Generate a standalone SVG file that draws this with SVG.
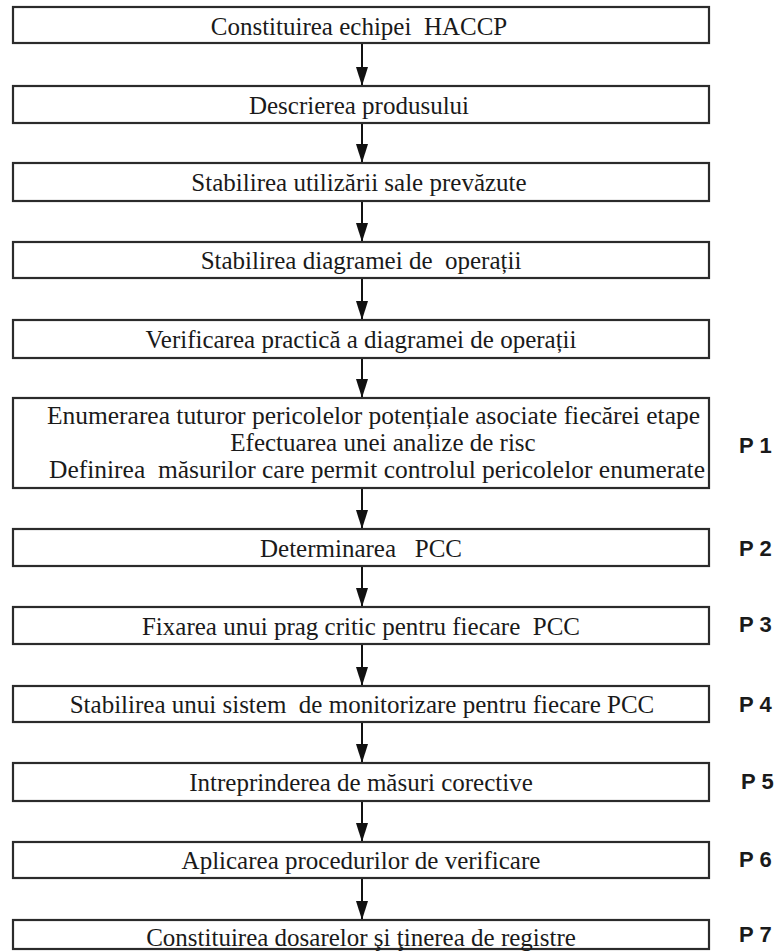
<svg xmlns="http://www.w3.org/2000/svg" width="779" height="951" viewBox="0 0 779 951">
  <style>
    .box rect { fill: #ffffff; stroke: #2b2b2b; stroke-width: 2.2; }
    .box text { font-family: "Liberation Serif", "Times New Roman", serif; font-size: 25px; fill: #1a1a1a; text-anchor: middle; }
    .step { font-family: "Liberation Sans", Arial, sans-serif; font-size: 22px; font-weight: bold; fill: #1a1a1a; }
    .conn line { stroke: #111111; stroke-width: 2; }
  </style>
  <defs>
    <marker id="head" markerUnits="userSpaceOnUse" markerWidth="19" markerHeight="12" viewBox="0 0 19 12" refX="19" refY="6" orient="auto">
      <path d="M0,0 L19,6 L0,12 Z" fill="#111111"/>
    </marker>
  </defs>
  <rect width="779" height="951" fill="#ffffff"/>

  <!-- connectors between consecutive steps -->
  <g id="connectors" class="conn">
    <line x1="362" y1="43" x2="362" y2="86" marker-end="url(#head)"/>
    <line x1="362" y1="123" x2="362" y2="163" marker-end="url(#head)"/>
    <line x1="362" y1="201" x2="362" y2="242" marker-end="url(#head)"/>
    <line x1="362" y1="278" x2="362" y2="320" marker-end="url(#head)"/>
    <line x1="362" y1="358" x2="362" y2="398" marker-end="url(#head)"/>
    <line x1="362" y1="488" x2="362" y2="529" marker-end="url(#head)"/>
    <line x1="362" y1="566" x2="362" y2="607" marker-end="url(#head)"/>
    <line x1="362" y1="644" x2="362" y2="686" marker-end="url(#head)"/>
    <line x1="362" y1="722" x2="362" y2="763" marker-end="url(#head)"/>
    <line x1="362" y1="801" x2="362" y2="842" marker-end="url(#head)"/>
    <line x1="362" y1="878" x2="362" y2="920" marker-end="url(#head)"/>
  </g>

  <g id="n1" class="box">
    <rect x="13" y="7" width="696" height="36"/>
    <text x="359" y="35" xml:space="preserve">Constituirea echipei  HACCP</text>
  </g>
  <g id="n2" class="box">
    <rect x="13" y="86" width="696" height="37"/>
    <text x="359" y="114">Descrierea produsului</text>
  </g>
  <g id="n3" class="box">
    <rect x="13" y="163" width="696" height="38"/>
    <text x="359" y="191">Stabilirea utilizării sale prevăzute</text>
  </g>
  <g id="n4" class="box">
    <rect x="13" y="242" width="696" height="36"/>
    <text x="361" y="269" xml:space="preserve">Stabilirea diagramei de  operații</text>
  </g>
  <g id="n5" class="box">
    <rect x="13" y="320" width="696" height="38"/>
    <text x="361" y="348">Verificarea practică a diagramei de operații</text>
  </g>
  <g id="n6" class="box">
    <rect x="13" y="398" width="696" height="90"/>
    <text x="47" y="424" text-anchor="start" style="text-anchor:start" textLength="653" lengthAdjust="spacingAndGlyphs">Enumerarea tuturor pericolelor potențiale asociate fiecărei etape</text>
    <text x="383" y="451">Efectuarea unei analize de risc</text>
    <text x="49" y="478" style="text-anchor:start" textLength="656" lengthAdjust="spacingAndGlyphs" xml:space="preserve">Definirea  măsurilor care permit controlul pericolelor enumerate</text>
  </g>
  <g id="n7" class="box">
    <rect x="13" y="529" width="696" height="37"/>
    <text x="361" y="557" xml:space="preserve">Determinarea   PCC</text>
  </g>
  <g id="n8" class="box">
    <rect x="13" y="607" width="696" height="37"/>
    <text x="361" y="635" xml:space="preserve">Fixarea unui prag critic pentru fiecare  PCC</text>
  </g>
  <g id="n9" class="box">
    <rect x="13" y="686" width="696" height="36"/>
    <text x="362" y="713" xml:space="preserve">Stabilirea unui sistem  de monitorizare pentru fiecare PCC</text>
  </g>
  <g id="n10" class="box">
    <rect x="13" y="763" width="696" height="38"/>
    <text x="361" y="791">Intreprinderea de măsuri corective</text>
  </g>
  <g id="n11" class="box">
    <rect x="13" y="842" width="696" height="36"/>
    <text x="361" y="869">Aplicarea procedurilor de verificare</text>
  </g>
  <g id="n12" class="box">
    <rect x="13" y="920" width="696" height="29"/>
    <text x="361" y="946">Constituirea dosarelor şi ţinerea de registre</text>
  </g>

  <!-- principle labels -->
  <g id="principles">
    <text class="step" x="739" y="453" xml:space="preserve">P 1</text>
    <text class="step" x="739" y="556" xml:space="preserve">P 2</text>
    <text class="step" x="739" y="632" xml:space="preserve">P 3</text>
    <text class="step" x="739" y="712" xml:space="preserve">P 4</text>
    <text class="step" x="741" y="789" xml:space="preserve">P 5</text>
    <text class="step" x="739" y="867" xml:space="preserve">P 6</text>
    <text class="step" x="739" y="942" xml:space="preserve">P 7</text>
  </g>
</svg>
